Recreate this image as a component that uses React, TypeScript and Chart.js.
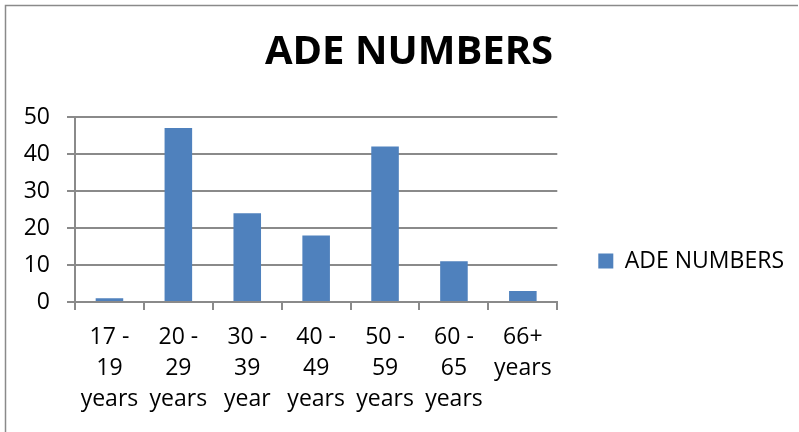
import { useEffect, useRef } from 'react';
import { Chart, registerables } from 'chart.js';

Chart.register(...registerables);

// Age bands (multi-line labels) and ADE counts per band
const ageBands: string[][] = [
  ['17 -', '19', 'years'],
  ['20 -', '29', 'years'],
  ['30 -', '39', 'year'],
  ['40 -', '49', 'years'],
  ['50 -', '59', 'years'],
  ['60 -', '65', 'years'],
  ['66+', 'years'],
];
const adeNumbers: number[] = [1, 47, 24, 18, 42, 11, 3];
const yTickValues: number[] = [0, 10, 20, 30, 40, 50];
const seriesName = 'ADE NUMBERS';
const chartTitle = 'ADE NUMBERS';

const FONT = "'Open Sans', 'Noto Sans', sans-serif";
const GRID = '#8a8a8a';

// Thin frame along the top and left edge of the chart object
const framePlugin = {
  id: 'frame',
  beforeDraw(chart: any) {
    const ctx = chart.ctx;
    ctx.save();
    ctx.strokeStyle = GRID;
    ctx.lineWidth = 1.5;
    ctx.beginPath();
    ctx.moveTo(5.5, chart.height);
    ctx.lineTo(5.5, 5.5);
    ctx.lineTo(chart.width - 1, 5.5);
    ctx.stroke();
    ctx.restore();
  },
};

// Push the legend block down so it sits lower on the right side
const legendOffsetPlugin = {
  id: 'legendOffset',
  afterLayout(chart: any) {
    const lg = chart.legend;
    if (lg) {
      lg.top += 45;
      lg.bottom += 45;
    }
  },
};

export default function App() {
  const canvasRef = useRef<HTMLCanvasElement | null>(null);

  useEffect(() => {
    if (!canvasRef.current) return;
    const chart = new Chart(canvasRef.current, {
      type: 'bar',
      data: {
        labels: ageBands,
        datasets: [
          {
            label: seriesName,
            data: adeNumbers,
            backgroundColor: '#4f81bd',
            borderWidth: 0,
            barPercentage: 0.4,
            categoryPercentage: 1,
          },
        ],
      },
      options: {
        responsive: false,
        animation: false,
        layout: { padding: { left: 24, right: 5, top: 0, bottom: 0 } },
        plugins: {
          title: {
            display: true,
            text: chartTitle,
            color: '#000',
            font: { family: FONT, size: 40, weight: 'bold', lineHeight: 1.2 },
            padding: { top: 29, bottom: 40 },
          },
          legend: {
            position: 'right',
            align: 'center',
            maxWidth: 320,
            labels: {
              color: '#000',
              font: { family: FONT, size: 23 },
              boxWidth: 15,
              boxHeight: 15,
              padding: 41,
            },
          },
          tooltip: { enabled: false },
        },
        scales: {
          x: {
            grid: {
              drawOnChartArea: false,
              drawTicks: true,
              tickLength: 8,
              color: GRID,
              lineWidth: 2,
            },
            border: { display: true, color: GRID, width: 2 },
            ticks: {
              color: '#000',
              font: { family: FONT, size: 23, lineHeight: 1.35 },
              padding: 12,
              maxRotation: 0,
              autoSkip: false,
            },
            afterFit(scale: any) {
              scale.height = 130;
            },
          },
          y: {
            min: 0,
            max: 50,
            grid: {
              color: GRID,
              lineWidth: 2,
              drawTicks: true,
              tickLength: 8,
            },
            border: { display: true, color: GRID, width: 2 },
            ticks: {
              color: '#000',
              font: { family: FONT, size: 23 },
              padding: 17,
              stepSize: 10,
            },
            afterBuildTicks(scale: any) {
              scale.ticks = yTickValues.map((v) => ({ value: v }));
            },
            afterFit(scale: any) {
              scale.width = 51;
            },
          },
        },
      },
      plugins: [framePlugin, legendOffsetPlugin],
    });
    return () => chart.destroy();
  }, []);

  return (
    <div style={{ position: 'fixed', left: 0, top: 0, width: 799, height: 432, background: '#fff' }}>
      <canvas ref={canvasRef} width={799} height={432} style={{ display: 'block' }} />
    </div>
  );
}
